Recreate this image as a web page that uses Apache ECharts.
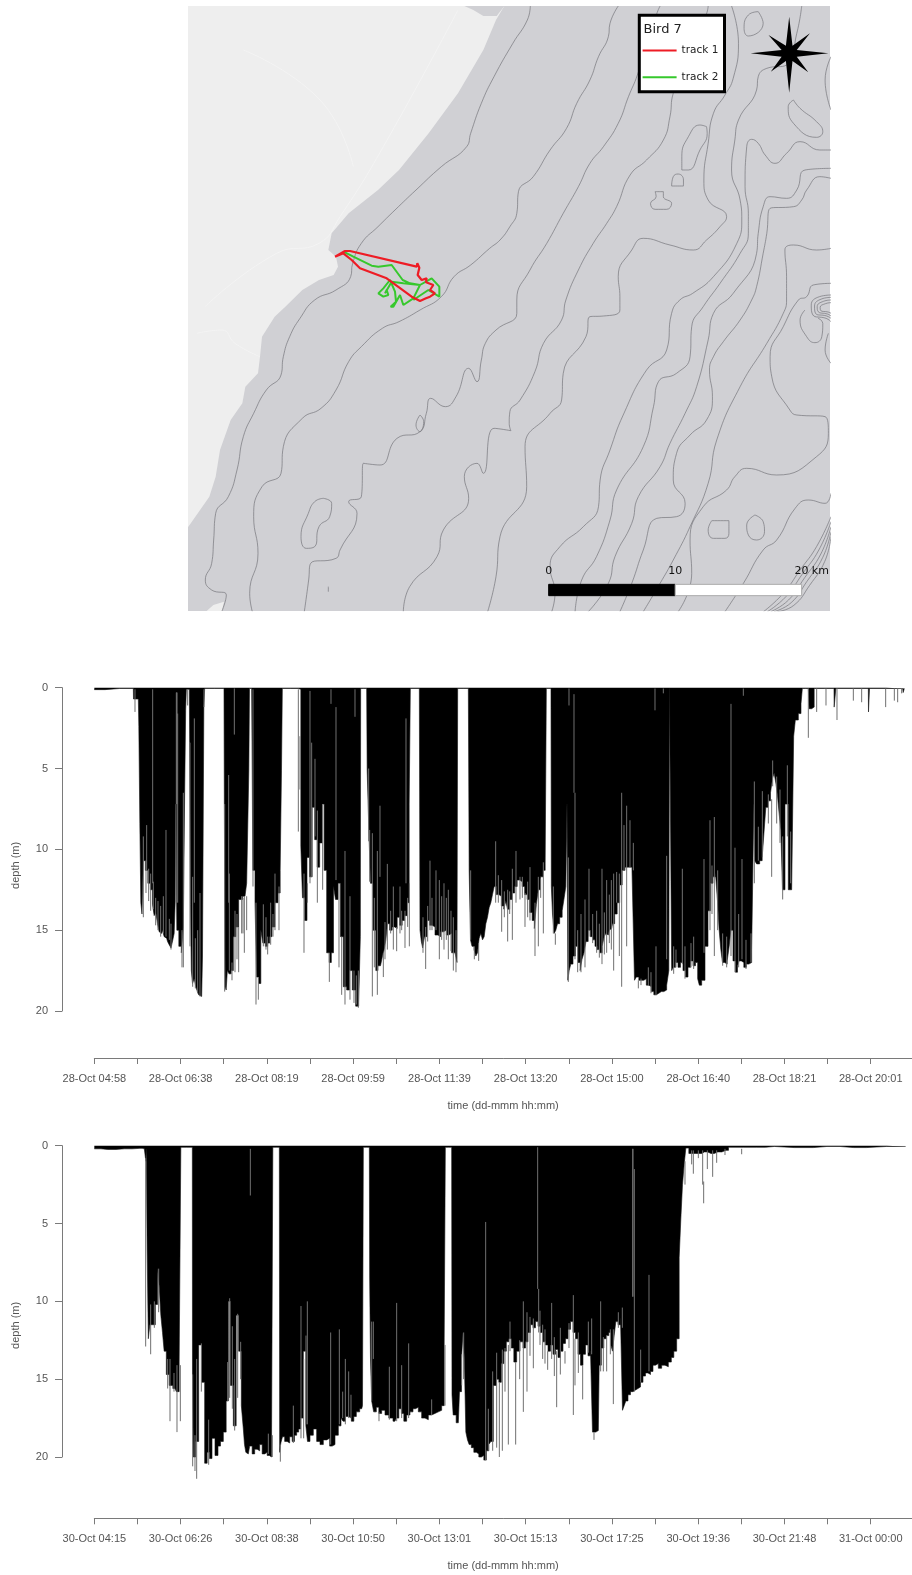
<!DOCTYPE html>
<html>
<head>
<meta charset="utf-8">
<title>Bird 7</title>
<script src="https://cdn.jsdelivr.net/npm/echarts@6/dist/echarts.min.js"></script>
<style>html,body{margin:0;padding:0;background:#fff;overflow:hidden}#c{width:912px;height:1575px;filter:blur(0.4px)}</style>
</head>
<body>
<div id="c"></div>
<script>
// ---------- DIVE RECORDS: x = logger sample number, y = depth in metres ----------
const ticks1 = ['28-Oct 04:58','28-Oct 06:38','28-Oct 08:19','28-Oct 09:59','28-Oct 11:39','28-Oct 13:20','28-Oct 15:00','28-Oct 16:40','28-Oct 18:21','28-Oct 20:01'];
const ticks2 = ['30-Oct 04:15','30-Oct 06:26','30-Oct 08:38','30-Oct 10:50','30-Oct 13:01','30-Oct 15:13','30-Oct 17:25','30-Oct 19:36','30-Oct 21:48','31-Oct 00:00'];
const depthTicks = [0,5,10,15,20];
const sampleStep = 129.4;
const sampleMax = 2453;

const profile1 = [[0,.12],[32,.12],[33,.05],[117,.05],[118,.7],[132,.7],[135,2.4],[138,8.4],[141,13.3],[145,14],[149,10.7],[157,11.3],[164,12.1],[172,12.5],[177,13.4],[182,14.1],[187,13.9],[192,14.6],[197,15.1],[202,15.2],[207,15],[212,15.4],[217,15.5],[222,15.7],[227,15.9],[233,16.1],[238,15.6],[241,15.2],[244,13.3],[245,7.2],[250,15],[257,16],[265,16.4],[269,14.8],[273,6.5],[275,1.4],[277,.1],
[285,.1],[287,3.4],[290,13.4],[292,17.5],[297,18.3],[302,18],[307,18.5],[311,18.8],[315,19],[322,19.1],[327,16.6],[330,1.2],[332,.05],
[389,.05],[391,7.2],[394,18.5],[397,18.7],[401,17.5],[407,17.7],[414,17.5],[420,15.4],[429,14.8],[437,13.1],[452,12.9],[462,12.1],[465,5.1],[466,.05],
[472,.05],[479,11.3],[485,13.3],[489,17.9],[497,18.3],[502,15],[509,15.8],[517,16],[523,15.8],[529,15.4],[537,14.8],[547,13.3],[555,12.7],[560,11.3],[563,5.1],[565,.05],
[612,.05],[617,.1],[622,9.8],[627,13],[635,14.4],[641,10.5],[650,11.7],[657,7.4],[665,9.4],[672,11.1],[680,9.6],[687,7.2],[692,11.3],[702,16.4],[707,17],[715,16.4],[720,12.3],[727,13.1],[735,12.1],[742,15.4],[752,18.5],[762,18.7],[769,17.5],[779,18.7],[789,19.7],[797,19.5],[799,15.4],[799,.05],
[817,.05],[820,5.1],[827,8.8],[830,12.1],[842,15],[847,17.5],[855,17.2],[862,17.1],[867,16.6],[872,16.2],[877,15.6],[882,14.6],[890,15],[897,14.8],[905,14.9],[912,14.2],[920,14.7],[927,14.4],[935,14.1],[942,13.3],[947,7.2],[949,.05],
[975,.05],[979,15],[983,15.7],[987,16.1],[994,15.4],[1002,14.4],[1010,14.7],[1017,14.8],[1027,15.3],[1035,15.4],[1043,15.1],[1052,15],[1060,15.3],[1067,15.2],[1077,16.4],[1087,16.4],[1089,17],[1091,.05],
[1122,.05],[1127,11.3],[1130,15.6],[1136,16],[1142,16.2],[1147,16.6],[1152,16.4],[1157,15.5],[1162,15.2],[1167,15.6],[1172,15.4],[1177,14.6],[1182,14.2],[1187,13.6],[1192,13.3],[1197,12.8],[1202,12.3],[1210,12.8],[1217,12.9],[1225,13.5],[1232,13.7],[1237,13.2],[1242,13.7],[1250,13.1],[1257,12.7],[1265,12.3],[1272,11.9],[1280,12],[1287,12.3],[1295,12.8],[1302,13.1],[1310,13.9],[1317,14.4],[1323,14.9],[1329,13.4],[1335,12.5],[1342,11.7],[1350,11.3],[1355,10.9],[1357,.05],
[1370,.05],[1372,12.3],[1377,14],[1382,15.2],[1387,15],[1392,14.6],[1400,14.2],[1407,13.8],[1412,13],[1417,12.3],[1419,7.2],[1422,18.1],[1427,17.5],[1432,17.1],[1440,16.6],[1447,16],[1455,17],[1460,17.5],[1466,16.8],[1472,16.4],[1478,15.7],[1485,15],[1492,15.4],[1499,15.6],[1505,16],[1512,16.2],[1520,16.4],[1527,16],[1532,15.4],[1537,15.2],[1542,15.3],[1547,15],[1552,14.9],[1557,14.6],[1565,14],[1572,13.3],[1580,12.2],[1587,11.3],[1597,11.1],[1607,11.1],[1619,11.3],[1622,18.1],[1630,17.9],[1637,18.1],[1645,18.1],[1652,18],[1660,18.4],[1667,18.5],[1675,18.8],[1682,19],[1690,18.9],[1697,18.8],[1705,18.8],[1712,18.7],[1722,18.4],[1725,17.5],[1726,.05],
[1731,.05],[1733,17.5],[1740,17.3],[1747,17],[1755,17.3],[1762,17],[1770,17.5],[1777,17.9],[1785,17.3],[1792,16.9],[1800,17.2],[1807,17],[1813,18],[1817,18.4],[1827,18.1],[1837,16],[1845,13.8],[1852,12.1],[1860,11.7],[1867,11.5],[1872,13.2],[1877,15],[1882,16.2],[1887,17],[1895,17.1],[1902,16.9],[1907,16],[1912,15],[1920,16.9],[1927,17.6],[1932,17.2],[1937,16.9],[1945,17],[1952,17.3],[1960,17.1],[1967,17],[1977,16.2],[1980,7.2],[1982,10.7],[1992,10.9],[2000,10.7],[2007,10.5],[2012,8.8],[2017,7.4],[2025,7],[2032,6.5],[2037,5.6],[2042,5.3],[2047,5.9],[2052,6.7],[2057,7.8],[2062,8.8],[2067,12.5],[2077,7.2],[2087,12.5],[2097,12.5],[2099,3],[2107,2],[2117,1.6],[2123,1],[2125,.05],
[2142,.05],[2147,1.3],[2157,1.2],[2162,.05],[2219,.05],[2220,1.2],[2224,1.2],[2225,.05],[2322,.05],[2323,1.5],[2325,1.5],[2326,.05],[2425,.05],[2428,.3],[2432,.05]];

const slits1 = [[122,.1,1.5],[147,9.2,14.2],[155,10.7,12.7],[169,11.5,13.8],[175,.1,12.1],[157,8.5,11.3],[163,11.2,13.2],[177,12,13.7],[184,13,14.7],[191,13.2,15],[199,13.5,15.4],[207,12.9,15.2],[215,8.8,15.4],[225,14.3,15.6],[230,14.6,16.2],[247,.3,7.2],[246,.3,7.2],[248,.3,7.2],[250,1.6,13.3],[245,7.2,13.3],[263,15,17.3],[267,6.5,17.3],[280,.1,1.1],[287,3.4,16],[295,11.7,18.5],[300,1.9,13.3],[303,15.5,18.6],[310,15,18.9],[317,12.7,19.1],[329,.1,1.2],
[391,7.2,18.8],[403,5.4,13.3],[405,11.5,17.5],[413,17,18.1],[420,.05,2.9],[422,13.8,17.6],[428,14,16.8],[433,14.8,17.6],[442,12.9,15.2],[446,13,15.2],[450,12.9,16.4],[457,12.9,15],[476,.1,12.3],[485,13.3,19.6],[492,17.9,19.3],[507,13.4,16],[515,14.2,16.2],[520,15.4,16.5],[529,13.3,15.9],[536,14,15.4],[542,11.5,15],[554,12.3,15],
[612,.1,8.9],[617,3,6.3],[629,11.5,16.4],[639,12.1,13.3],[647,.2,12.1],[652,3.4,11.7],[662,4.4,9.2],[669,7.6,13.3],[685,7.2,12.5],[705,16.4,18.2],[710,.1,1],[725,1.2,11.9],[734,12.1,17.3],[742,15.4,19],[752,10.1,19.6],[767,12.9,19.3],[782,.1,1.8],[779,17.5,19.5],[792,17.5,19.8],[786,17.8,19.6],
[823,5,9.5],[826,8.8,12],[834,9,19.1],[840,13,17.3],[849,10.1,19],[857,7.3,11.7],[867,16.4,17.9],[872,14.5,16.8],[879,10.9,16.2],[889,13.8,15.2],[897,12.3,16.2],[917,12.3,15.2],[907,14.8,16.3],[922,13.8,15],[935,1.9,12.1],[932,13.8,16.1],[940,13,14.8],[945,12.1,16],
[986,14.2,16.4],[994,14.8,17.4],[1000,13.5,15.7],[1007,10.7,15],[1013,13,15],[1025,11.3,15],[1035,11.9,16.8],[1042,12.9,15.6],[1049,12.1,16.2],[1056,13,15.6],[1062,12.5,16.8],[1070,13.8,16.3],[1077,14.2,17.5],[1085,15,17.6],
[1129,11.3,15.6],[1140,16,16.8],[1153,15.8,16.9],[1204,9.5,13.3],[1212,11.6,13.3],[1222,11.9,15.1],[1230,12.6,14.2],[1240,12.5,15.7],[1246,12.6,14],[1254,11.2,15.6],[1265,10.1,13.3],[1277,11.7,13.1],[1284,11.7,13],[1292,12.7,14.8],[1300,12,14.2],[1307,11.1,14.4],[1322,13.3,16.6],[1332,11.7,16],[1339,11.8,13],[1347,10.8,15.2],
[1377,12.3,15.2],[1383,15.2,15.9],[1424,.05,1.1],[1422,10.5,18.2],[1439,.4,6.5],[1442,6.5,16.8],[1450,15,17.6],[1460,14,17.6],[1472,13.1,17.3],[1484,11.2,15.4],[1495,14,15.8],[1507,13.8,16.4],[1515,14.6,16.7],[1523,11.2,17.1],[1530,13.9,16.5],[1537,11.9,16.4],[1545,12.8,15.8],[1551,11.9,16.2],[1558,11.5,17.5],[1567,11.4,13.3],[1575,11.5,16.6],[1582,6.5,18.5],[1589,8.5,11.3],[1597,7.3,16],[1607,8.2,11.1],[1617,9.6,11.3],[1632,18.1,18.6],[1640,18,18.4],[1662,17.3,18.4],[1670,17.6,18.9],[1682,.05,1.4],[1685,16,19],[1707,.05,.35],[1717,10.4,16.8],
[1738,16,17.7],[1745,16.2,17.3],[1764,11.2,17.1],[1772,16,18],[1790,15.8,17.3],[1798,15.4,17.4],[1829,10.6,16.4],[1847,8.2,15],[1853,11,14],[1860,8,16.6],[1870,11.3,15],[1885,15.2,17.2],[1897,15.4,17.3],[1910,1,16.6],[1922,9.9,17.6],[1933,14,17.3],[1943,10.6,16.8],[1947,.05,.5],[1955,15.6,17.4],[1970,15.2,17],[1980,5.8,12.1],[1992,8.6,10.7],[2004,6.4,10.5],[2022,6.6,8.4],[2032,6.9,11.7],[2035,4.5,6.1],[2047,5.5,8.4],[2057,6.3,9.6],[2065,9.2,13.1],[2079,4.8,9.2],[2089,8.9,12.1],
[2142,.05,3.1],[2167,.05,1.5],[2195,.05,1.1],[2228,.05,2],[2277,.05,.8],[2302,.05,.9],[2374,.05,1.2],[2400,.05,.8],[2410,.05,.9],[2422,.05,.35]];

const profile2 = [[0,.2],[40,.24],[90,.2],[137,.17],[150,.2],[154,.3],[155,1],[157,.2],[160,6.8],[164,12.4],[169,11.5],[179,11.5],[187,10.2],[192,7.9],[197,9],[202,10.9],[207,12],[212,13.2],[220,14.7],[229,15.4],[242,15.6],[250,15.8],[259,13.9],[260,.1],
[294,.1],[295,14.7],[299,20],[309,19],[317,12.8],[327,15.2],[335,20.4],[342,19.7],[349,20.1],[357,18.8],[367,19.9],[375,19.3],[382,19],[392,18.4],[399,16.4],[405,10],[412,15.4],[422,18],[429,10.9],[437,13.2],[445,16.7],[449,18.2],[452,19.2],[457,19.7],[462,19.8],[470,19.3],[477,19.8],[485,19.5],[492,19.6],[500,19.2],[507,19.8],[515,19.7],[522,19.9],[528,20],[535,19.8],[536,.1],
[555,.1],[557,19.7],[562,19.1],[567,18.7],[575,19],[582,19.1],[590,18.7],[597,19],[604,18.6],[610,18.4],[616,18.2],[622,17.5],[632,13.2],[637,18],[642,19],[652,18.6],[662,18.2],[672,19],[682,19.2],[692,18.9],[702,18.8],[710,19.3],[717,19.2],[727,18.6],[737,18],[743,17.5],[749,17.7],[758,17.4],[767,17.5],[775,17.7],[782,17.4],[790,17.1],[802,16.9],[807,16.7],[807,.1],
[825,.1],[827,8.5],[830,13.7],[834,16.4],[842,17.1],[850,16.8],[857,17.2],[867,17],[877,17.3],[890,17.5],[902,17.7],[910,17.5],[917,16.9],[925,17.2],[932,17.7],[942,17.3],[952,17.1],[960,16.9],[967,16.8],[977,17.1],[987,17.5],[997,17.6],[1007,17.3],[1017,17.2],[1027,17.1],[1037,17],[1047,16.7],[1052,12.8],[1054,.1],
[1072,.1],[1074,16],[1079,17.3],[1092,17.8],[1099,15.8],[1104,13.7],[1108,12],[1112,13.7],[1117,18.4],[1122,18.9],[1127,19.2],[1135,19.4],[1142,19.7],[1150,19.8],[1157,20],[1165,19.9],[1172,20.2],[1180,19.6],[1187,19.2],[1192,19],[1202,15.4],[1210,15],[1217,15.2],[1225,14],[1232,13.2],[1240,12.6],[1247,12.4],[1255,13],[1262,13.9],[1272,13.2],[1282,12.6],[1290,13],[1297,12.6],[1305,12],[1312,11.5],[1320,11.7],[1327,11.3],[1335,11.6],[1342,12],[1350,12.6],[1357,12.8],[1365,13.2],[1372,12.8],[1380,13.4],[1387,13.1],[1395,13.6],[1402,13.2],[1410,12.7],[1417,12.4],[1425,11.8],[1432,11.3],[1440,12],[1447,12.4],[1455,13.4],[1462,14.1],[1470,13.4],[1477,12.8],[1485,13.5],[1492,13.2],[1497,18.4],[1512,18.3],[1517,14.1],[1525,13],[1532,12.4],[1540,12.2],[1547,12],[1552,12.8],[1557,13.2],[1562,12.2],[1567,11.3],[1575,11.5],[1582,11.1],[1587,17],[1592,16.7],[1597,16.4],[1605,16],[1612,15.8],[1620,15.7],[1627,15.6],[1635,15.5],[1642,15.2],[1650,14.8],[1657,14.6],[1665,14.7],[1672,14.5],[1680,14.1],[1687,14],[1697,14.3],[1707,14.1],[1717,14.2],[1727,13.9],[1735,13.6],[1742,13.2],[1752,12.4],[1757,7.2],[1762,4.7],[1767,2.5],[1772,1.2],[1777,.15],
[1790,.5],[1815,.5],[1830,.4],[1850,.5],[1870,.4],[1895,.3],[1910,.1],[1987,.1],[2040,.05],[2042,.12],[2157,.12],[2159,.05],[2237,.05],[2239,.12],[2317,.12],[2319,.05],[2434,.05]];

const slits2 = [[154,.8,12.9],[169,10.2,13.4],[180,10,11.7],[193,7.9,10.7],[220,13.7,15.6],[227,13.7,17.7],[239,14.6,15.8],[248,14.1,18.4],[258,14.1,17.7],
[295,14.7,20.6],[302,18.6,20.9],[307,13.7,21.4],[321,12.7,15.8],[343,17.6,20.5],[406,9.8,16.2],[414,11.6,16.9],[421,13.7,18.3],[430,10.8,16.2],[439,12.6,15],[400,13.9,16.4],[468,.2,3.2],[522,18.5,19.8],[534,18.6,20],
[558,19.2,20.3],[597,16.7,19.1],[620,10.3,18.8],[628,13.7,18.8],[639,10,17.9],[635,12.2,17.9],[709,12,19.2],[735,11.8,17.9],[753,13.7,17.9],[763,14.5,17.5],[770,16,17.5],[745,15.8,17.5],
[832,11.3,16.4],[837,11.3,13.7],[854,17.1,17.7],[885,14.2,17.6],[907,10.1,17.7],[922,14.1,17.5],[943,12.7,17.5],[1012,16.3,17.3],[1052,12.8,16.7],
[1102,13.4,15.4],[1108,12,15],[1174,4.9,20.2],[1182,16.9,19.6],[1195,14.5,19.6],[1207,13.3,19.4],[1215,15.2,20],[1224,13.1,19.6],[1232,13,15.8],[1242,12.8,19.2],[1247,11.3,13.2],[1264,13.9,19.2],[1276,12.5,15],[1287,10,17.1],[1298,10.7,15.8],[1307,11,13.5],[1317,11.1,14.3],[1330,.1,9.2],[1333,9.2,12],[1337,10.6,12.8],[1345,11.5,13.7],[1352,11.8,14],[1360,13.2,14.4],[1372,10.1,13.7],[1380,12.3,14.8],[1387,13.2,16.8],[1398,11.7,14.7],[1412,13.2,14],[1424,11.4,13],[1437,9.6,17.3],[1442,12.4,15.4],[1452,12,14.6],[1465,14.1,16.3],[1482,11.3,13.3],[1492,11.1,13.4],[1499,18.4,18.9],[1519,10,14.5],[1527,12.3,14.5],[1537,12.2,14.5],[1548,11.8,13.4],[1557,11.8,16.6],[1572,10.7,11.7],[1584,10.4,11.7],[1615,.2,9.7],[1616,.2,9.7],[1620,1.5,15.8],[1664,8.3,14.5],[1639,13.1,15.2],
[1772,1,2.5],[1792,.3,1.2],[1797,.3,1.8],[1812,.3,.8],[1825,.3,2.5],[1828,2.3,3.7],[1839,.3,1.5],[1855,.3,2],[1867,.3,1.1],[1892,.2,.6],[1942,.2,.55]];

// ---------- MAP: easting / northing in map units (37.95 units = 1 km) ----------
const coast = [[564,18],[1513,18],[1488,60],[1450,150],[1374,280],[1286,400],[1197,510],[1134,570],[1046,640],[995,700],[985,750],[1008,770],[1014,800],[1001,825],[957,840],[907,870],[856,920],[824,950],[786,1010],[780,1070],[774,1120],[736,1160],[727,1210],[692,1260],[660,1350],[647,1430],[628,1490],[565,1580],[564,1580]];
const estuary = [[1393,18],[1420,30],[1450,48],[1490,48],[1513,18]];
const landCorner = [[564,1833],[620,1833],[640,1815],[672,1805],[666,1833]];
const roadA = [[1374,30],[1150,440],[1020,650],[957,730],[830,760],[615,920]];
const roadB = [[590,1000],[666,990],[705,1030],[780,1070]];
const roadC = [[730,150],[960,300],[1060,500]];

const contourA = [[1592,18],[1583,60],[1539,130],[1482,230],[1444,310],[1412,400],[1400,440],[1324,500],[1248,570],[1185,630],[1134,680],[1084,730],[1058,790],[1052,830],[1008,870],[944,900],[900,955],[869,1010],[850,1070],[843,1125],[799,1170],[761,1240],[730,1310],[711,1410],[685,1490],[647,1540],[641,1620],[635,1690],[616,1740],[635,1770],[679,1785],[666,1833]];
const contourB = [[1859,18],[1834,70],[1829,110],[1799,170],[1773,240],[1733,310],[1702,385],[1652,450],[1601,530],[1556,575],[1551,640],[1530,680],[1500,720],[1469,745],[1412,795],[1362,830],[1324,890],[1260,930],[1197,965],[1147,985],[1084,1040],[1046,1085],[1008,1170],[963,1225],[907,1255],[850,1340],[843,1420],[786,1460],[761,1550],[774,1660],[749,1780],[757,1835]];
const contourC = [[1986,18],[1976,41],[1917,225],[1890,290],[1859,370],[1814,440],[1773,490],[1738,560],[1692,640],[1642,730],[1591,810],[1551,900],[1551,940],[1488,990],[1456,1030],[1444,1080],[1431,1145],[1406,1105],[1368,1190],[1336,1220],[1292,1195],[1279,1240],[1260,1295],[1191,1315],[1140,1395],[1090,1390],[1084,1490],[1046,1505],[1071,1540],[1020,1650],[1008,1675],[932,1690],[926,1740],[913,1835]];
const contourD = [[2132,18],[2127,41],[2026,280],[2016,350],[1996,420],[1945,480],[1895,525],[1854,620],[1824,670],[1783,730],[1738,810],[1700,900],[1687,960],[1632,1030],[1606,1115],[1561,1200],[1530,1235],[1528,1270],[1533,1292],[1482,1285],[1450,1420],[1431,1390],[1393,1430],[1406,1495],[1330,1590],[1311,1670],[1229,1760],[1210,1835]];
const contourE = [[2203,18],[2224,130],[2208,235],[2183,285],[2148,340],[2132,430],[2119,540],[2132,600],[2188,650],[2168,680],[2127,720],[2087,750],[2016,735],[1935,715],[1900,750],[1859,830],[1864,890],[1864,930],[1814,948],[1773,950],[1761,1010],[1692,1120],[1687,1200],[1652,1240],[1576,1340],[1581,1460],[1500,1610],[1488,1730],[1463,1835]];
const contourF = [[2416,18],[2401,100],[2370,195],[2310,205],[2284,230],[2279,270],[2224,360],[2213,420],[2203,510],[2229,600],[2234,660],[2219,730],[2148,830],[2085,880],[2046,900],[2021,940],[2006,1050],[1945,1110],[1874,1245],[1834,1350],[1804,1440],[1799,1520],[1753,1580],[1682,1640],[1652,1700],[1667,1780],[1657,1835]];
const contourG = [[2505,450],[2471,450],[2411,425],[2370,460],[2335,490],[2305,465],[2284,430],[2264,418],[2249,440],[2244,560],[2254,640],[2254,700],[2229,760],[2168,850],[2117,920],[2082,980],[2077,1070],[2036,1120],[1981,1145],[1966,1220],[1935,1340],[1854,1470],[1834,1560],[1793,1670],[1748,1740],[1728,1835]];
const contourH = [[2505,505],[2426,510],[2401,570],[2370,595],[2320,590],[2299,620],[2284,700],[2279,760],[2208,880],[2148,940],[2132,1020],[2097,1160],[2062,1240],[2016,1330],[1986,1400],[1920,1490],[1900,1570],[1849,1670],[1829,1750],[1768,1835]];
const contourI = [[2505,535],[2471,530],[2431,570],[2416,600],[2391,620],[2320,625],[2310,700],[2299,760],[2279,860],[2264,900],[2229,960],[2178,1025],[2148,1070],[2136,1110],[2145,1190],[2127,1260],[2077,1305],[2036,1360],[2026,1440],[2062,1510],[2036,1550],[1976,1555],[1935,1650],[1900,1750],[1864,1835]];
const contourJ = [[2505,745],[2461,750],[2391,735],[2365,750],[2370,830],[2370,900],[2360,940],[2310,1030],[2229,1160],[2158,1320],[2132,1450],[2077,1580],[2026,1680],[1986,1750],[1935,1835]];
const contourK = [[2505,850],[2451,855],[2431,890],[2406,900],[2360,980],[2320,1070],[2325,1130],[2380,1230],[2401,1245],[2487,1250],[2497,1300],[2461,1370],[2340,1425],[2249,1405],[2213,1430],[2188,1470],[2117,1520],[2077,1620],[2082,1720],[2041,1835]];
const contourL = [[2505,1480],[2487,1510],[2436,1500],[2396,1525],[2340,1620],[2299,1650],[2239,1750],[2183,1835]];
const contourM = [[2505,170],[2487,240],[2505,330]];
const contourN = [[2426,930],[2411,960],[2431,1010],[2456,1028],[2477,1010],[2480,970],[2466,955]];
const contourO = [[2505,1090],[2487,1050],[2497,1000]];
const islandA = [[970,1495],[995,1510],[989,1550],[957,1580],[944,1640],[919,1645],[903,1610],[925,1540],[944,1505],[970,1495]];
const islandB = [[1260,1245],[1248,1275],[1260,1295],[1271,1265],[1260,1245]];
const islandC = [[985,1760],[985,1775]];
const islandD = [[2127,380],[2107,375],[2072,410],[2052,470],[2052,510],[2072,510],[2107,450],[2129,400],[2127,380]];
const islandE = [[2021,558],[2026,530],[2041,522],[2057,540],[2057,558],[2021,558]];
const islandF = [[1971,575],[1996,575],[1996,590],[2021,610],[2006,628],[1971,628],[1957,610],[1974,590],[1971,575]];
const islandG = [[2143,1562],[2195,1562],[2195,1600],[2183,1615],[2148,1615],[2132,1590],[2143,1562]];
const islandH = [[2274,1545],[2299,1565],[2303,1595],[2279,1620],[2254,1605],[2249,1575],[2274,1545]];
const islandI = [[2284,35],[2254,45],[2241,85],[2254,108],[2299,70],[2284,35]];
const islandJ = [[2391,300],[2375,320],[2391,370],[2461,412],[2480,395],[2461,365],[2411,325],[2391,300]];
const steep1 = [[2505,1550],[2461,1640],[2411,1710],[2360,1780],[2300,1835]];
const steep2 = [[2505,1565],[2468,1650],[2418,1722],[2368,1790],[2312,1835]];
const steep3 = [[2505,1580],[2474,1662],[2425,1733],[2376,1800],[2322,1835]];
const steep4 = [[2505,1595],[2480,1672],[2432,1744],[2384,1808],[2332,1835]];
const steep5 = [[2505,1610],[2486,1684],[2440,1756],[2392,1816],[2342,1835]];
const knot1 = [[2505,885],[2470,890],[2445,915],[2450,945],[2490,955],[2505,965]];
const knot2 = [[2505,892],[2476,897],[2455,918],[2458,940],[2492,948],[2505,955]];
const knot3 = [[2505,900],[2482,904],[2463,920],[2466,935],[2494,942],[2505,948]];
const knot4 = [[2505,908],[2488,911],[2472,922],[2474,932],[2496,936],[2505,940]];

const track1 = [[1005,770],[1035,753],[1050,753],[1250,800],[1252,790],[1258,803],[1253,825],[1265,840],[1280,835],[1278,847],[1300,855],[1290,870],[1305,880],[1290,890],[1278,895],[1260,903],[1235,890],[1160,835],[1080,805],[1055,780],[1030,760],[1005,770]];
const track2 = [[1030,755],[1060,770],[1115,797],[1135,800],[1175,795],[1208,840],[1230,850],[1260,855],[1240,895],[1210,915],[1200,885],[1180,920],[1172,920],[1188,905],[1185,875],[1170,840],[1150,865],[1135,880],[1150,890],[1165,885],[1160,870],[1155,880],[1175,845],[1210,850],[1260,855],[1295,835],[1318,860],[1318,890],[1285,870],[1240,900]];

const star = [[2378,50],[2388,137],[2441,100],[2401,150],[2497,160],[2401,170],[2436,217],[2388,183],[2378,278],[2368,183],[2322,215],[2355,170],[2261,160],[2355,150],[2315,105],[2368,137]];

const scaleKm = [0,10,20];
const scaleLabels = ['0','10','20 km'];
const scaleOrigin = 1646;
const unitsPerKm = 37.95;

// The eastern sheet of the map was digitised slightly stretched; this brings it back to the common grid.
const eastStretch = 1.012;
const onGrid = ([u,v]) => [u>1500 ? 1500+(u-1500)/eastStretch : u, v];

// ---------- COLOURS AND STYLES ----------
const SEA = '#d0d0d4', LAND = '#eeeeee', CONTOUR = '#75757b';
const AXIS = '#7a7a7a', TEXT = '#555555', SANS = 'Liberation Sans';

const contours = [contourA,contourB,contourC,contourD,contourE,contourF,contourG,contourH,contourI,contourJ,contourK,contourL,contourM,contourN,contourO,islandA,islandB,islandC,islandD,islandE,islandF,islandG,islandH,islandI,islandJ,steep1,steep2,steep3,steep4,steep5,knot1,knot2,knot3,knot4];
const roads = [roadA,roadB,roadC];

function polygon(points, fill) {
  return {type:'custom', coordinateSystem:'cartesian2d', xAxisIndex:0, yAxisIndex:0, silent:true, z:1,
    data:[points[0]], encode:{x:0,y:1},
    renderItem:(p,api)=>({type:'polygon', shape:{points:points.map(q=>api.coord(q))}, style:{fill}})};
}
function mapLine(points, color, width, name, z) {
  return {type:'line', name, coordinateSystem:'cartesian2d', xAxisIndex:0, yAxisIndex:0, data:points, showSymbol:false, symbol:'none',
    smooth:name?false:0.5, silent:true, z:z||2, lineStyle:{color, width}, itemStyle:{color}};
}
function profileSeries(points, axis) {
  return {type:'line', step:'middle', xAxisIndex:axis, yAxisIndex:axis, data:points, showSymbol:false, symbol:'none', clip:false, silent:true, z:2,
    lineStyle:{color:'#111', width:0.6}, areaStyle:{color:'#000', opacity:1}, itemStyle:{color:'#000'}};
}
function slitSeries(points, axis) {
  return {type:'custom', coordinateSystem:'cartesian2d', xAxisIndex:axis, yAxisIndex:axis, silent:true, z:3, clip:false,
    data:points, encode:{x:0,y:[1,2]},
    renderItem:(p,api)=>{
      const a=api.coord([api.value(0),api.value(1)]), b=api.coord([api.value(0),api.value(2)]);
      return {type:'line', shape:{x1:a[0],y1:a[1],x2:b[0],y2:b[1]}, style:{stroke:'#707070',lineWidth:1}};
    }};
}
function xAxis(idx, labels, offset) {
  return {type:'value', gridIndex:idx, position:'bottom', min:0, max:sampleMax, interval:sampleStep, offset,
    splitLine:{show:false}, axisLine:{onZero:false, lineStyle:{color:AXIS,width:1}},
    axisTick:{show:true,length:6,lineStyle:{color:AXIS}},
    axisLabel:{margin:15.5, color:TEXT, fontSize:11, fontFamily:SANS, showMinLabel:true, showMaxLabel:true,
      formatter:v=>{const i=Math.round(v/sampleStep); return (i%2===0 && Math.abs(v-i*sampleStep)<1 && labels[i/2])||'';}},
    name:'time (dd-mmm hh:mm)', nameLocation:'middle', nameGap:42,
    nameTextStyle:{color:TEXT,fontSize:11,fontFamily:SANS}};
}
function yAxis(idx, nudge) {
  return {type:'value', gridIndex:idx, inverse:true, min:0, max:20, interval:5, offset:32.3, position:'left',
    splitLine:{show:false}, axisLine:{show:true,onZero:false,lineStyle:{color:AXIS,width:1}},
    axisTick:{show:true,length:7,lineStyle:{color:AXIS}},
    axisLabel:{margin:14,color:TEXT,fontSize:11,fontFamily:SANS,formatter:v=>depthTicks.includes(v)?String(v):''},
    name:'depth (m)', nameLocation:'middle', nameGap:41, nameMoveOverlap:false,
    nameTextStyle:{color:TEXT,fontSize:11,fontFamily:SANS,padding:[0,nudge,0,0]}};
}

const scaleSeries = {type:'custom', coordinateSystem:'cartesian2d', xAxisIndex:0, yAxisIndex:0, silent:true, z:6,
  data:scaleKm.map((k,i)=>[scaleOrigin+k*unitsPerKm,1770,i]), encode:{x:0,y:1},
  renderItem:(p,api)=>{
    const i=api.value(2), kids=[];
    const a=api.coord([api.value(0),1753]);
    if(i<scaleKm.length-1){
      const e=api.coord([scaleOrigin+scaleKm[i+1]*unitsPerKm,1787]);
      kids.push({type:'rect',shape:{x:a[0],y:a[1],width:e[0]-a[0],height:e[1]-a[1]},
        style:{fill:i===0?'#000':'#fff',stroke:i===0?'#000':'#aaa',lineWidth:1}});
    }
    const tx=api.coord([api.value(0),1712]);
    kids.push({type:'text',style:{x:tx[0]+(i===2?10:0),y:tx[1],text:scaleLabels[i],align:'center',verticalAlign:'middle',font:'11px "DejaVu Sans"',fill:'#111'}});
    return {type:'group',children:kids};
  }};

const series = [
  polygon(coast, LAND), polygon(estuary, SEA), polygon(landCorner, LAND),
  ...roads.map(r=>mapLine(r,'#f4f4f4',1)),
  ...contours.map(c=>mapLine(c.map(onGrid),CONTOUR,0.7)),
  mapLine(track2,'#36c82c',2,'track 2',4),
  mapLine(track1,'#ee1c25',2.2,'track 1',5),
  Object.assign(polygon(star.map(onGrid),'#000'),{z:5}),
  scaleSeries,
  profileSeries(profile1,1), slitSeries(slits1,1),
  profileSeries(profile2,2), slitSeries(slits2,2)
];

const chart = echarts.init(document.getElementById('c'), null, {renderer:'canvas', width:912, height:1575});
chart.setOption({
  animation:false, backgroundColor:'#fff',
  grid:[
    {left:188, top:6, width:642, height:605, show:true, backgroundColor:SEA, borderWidth:0, containLabel:false, outerBoundsMode:'none'},
    {left:94.33, top:687.7, width:817.67, height:323.3, containLabel:false, outerBoundsMode:'none'},
    {left:94.33, top:1145.7, width:817.67, height:311.3, containLabel:false, outerBoundsMode:'none'}
  ],
  xAxis:[
    {type:'value', gridIndex:0, min:564, max:2490, show:false},
    xAxis(1,ticks1,47), xAxis(2,ticks2,61.3)
  ],
  yAxis:[
    {type:'value', gridIndex:0, min:18, max:1833, inverse:true, show:false},
    yAxis(1,32), yAxis(2,48)
  ],
  legend:{show:true, data:[{name:'track 1',icon:'rect'},{name:'track 2',icon:'rect'}], orient:'vertical', left:642.6, top:45, padding:0, itemWidth:34, itemHeight:2, itemGap:15.7,
    selectedMode:false, z:10, textStyle:{fontFamily:'DejaVu Sans',fontSize:10.5,color:'#222'}},
  graphic:{elements:[
    {type:'rect', z:8, shape:{x:639.3,y:15.2,width:85.2,height:76.6}, style:{fill:'#fff',stroke:'#000',lineWidth:3}},
    {type:'text', z:9, style:{x:643.5,y:30,text:'Bird 7',verticalAlign:'middle',font:'13px "DejaVu Sans"',fill:'#222'}}
  ]},
  series
});
</script>
</body>
</html>
